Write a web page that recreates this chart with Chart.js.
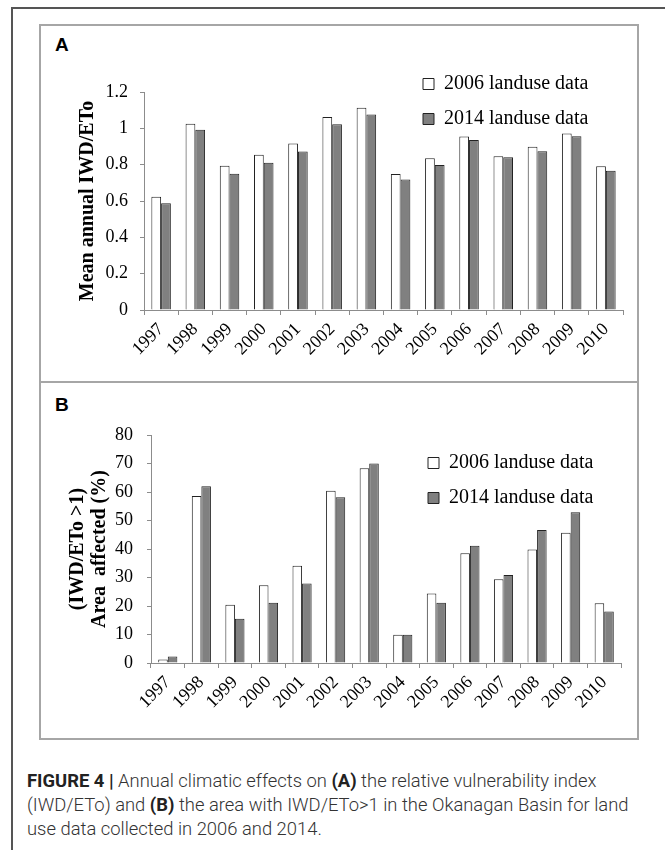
<!DOCTYPE html>
<html>
<head>
<meta charset="utf-8">
<script src="https://cdn.jsdelivr.net/npm/chart.js@4.4.1/dist/chart.umd.min.js"></script>
<style>
  body { margin: 0; width: 665px; height: 850px; position: relative; overflow: hidden; background: #fff; }
  .frame { position: absolute; left: 11px; top: 7px; width: 720px; height: 900px;
           border-left: 2px solid #555; border-top: 2px solid #555; }
  .panel { position: absolute; left: 39px; width: 600px; box-sizing: border-box; border: 2px solid #a6a6a6; }
  .plabel { position: absolute; left: 55px; font: bold 19px "Liberation Sans", Arial, sans-serif; line-height: 19px; color: #000; }
  canvas { position: absolute; left: 39px; }
  .caption { position: absolute; left: 27px; top: 769px; width: 640px; white-space: nowrap;
             font: 300 18.4px Roboto, "Liberation Sans", sans-serif; line-height: 24px; color: #333; }
  .caption b { color: #222; font-weight: bold; }
</style>
</head>
<body>
<div class="frame"></div>
<div class="panel" style="top:24px;height:359px"></div>
<div class="panel" style="top:381px;height:359px"></div>
<div class="plabel" style="top:35px">A</div>
<div class="plabel" style="top:395px">B</div>
<canvas id="chart-a" width="599" height="358" style="top:24px"></canvas>
<canvas id="chart-b" width="599" height="357" style="top:382px"></canvas>
<div class="caption"><b>FIGURE 4 |</b> Annual climatic effects on <b>(A)</b> the relative vulnerability index<br>(IWD/ETo) and <b>(B)</b> the area with IWD/ETo&gt;1 in the Okanagan Basin for land<br>use data collected in 2006 and 2014.</div>

<script>
/* Figure 4 – IWD/ETo and area affected, 1997–2010 */

const years = ["1997", "1998", "1999", "2000", "2001", "2002", "2003",
               "2004", "2005", "2006", "2007", "2008", "2009", "2010"];

const seriesNames = ["2006 landuse data", "2014 landuse data"];

// panel A: mean annual IWD/ETo
const iwd2006 = [0.623, 1.025, 0.794, 0.855, 0.916, 1.062, 1.113, 0.748, 0.835, 0.955, 0.846, 0.898, 0.972, 0.791];
const iwd2014 = [0.588, 0.992, 0.750, 0.811, 0.872, 1.023, 1.076, 0.719, 0.798, 0.936, 0.841, 0.874, 0.957, 0.767];
const iwdTicks = [0, 0.2, 0.4, 0.6, 0.8, 1, 1.2];

// panel B: area affected (%) with IWD/ETo > 1
const area2006 = [1.2, 58.6, 20.4, 27.3, 34.1, 60.4, 68.3, 9.9, 24.4, 38.5, 29.4, 39.8, 45.7, 21.0];
const area2014 = [2.3, 62.0, 15.5, 21.1, 27.9, 58.2, 70.0, 9.9, 21.1, 41.1, 30.9, 46.7, 52.9, 18.1];
const areaTicks = [0, 10, 20, 30, 40, 50, 60, 70, 80];

const SERIF = "'Liberation Serif', 'Times New Roman', serif";
const AXIS  = "#8c8c8c";

/* legend sits inside the plot, top right — move it after layout */
const legendInPlot = {
  id: "legendInPlot",
  afterLayout(chart, args, opts) {
    const lg = chart.legend;
    if (!lg) return;
    const w = lg.width, h = lg.height;
    lg.left = opts.x; lg.right = opts.x + w;
    lg.top  = opts.y; lg.bottom = opts.y + h;
  },
};

function makeBarChart(id, a, b, ticks, o) {
  new Chart(document.getElementById(id), {
    type: "bar",
    data: {
      labels: years,
      datasets: [
        { label: seriesNames[0], data: a, backgroundColor: "#ffffff", borderColor: "#222", borderWidth: 1 },
        { label: seriesNames[1], data: b, backgroundColor: "#808080", borderColor: "#222", borderWidth: 1 },
      ],
    },
    plugins: [legendInPlot],
    options: {
      responsive: false,
      animation: false,
      layout: { padding: o.pad },
      datasets: { bar: { categoryPercentage: 0.57, barPercentage: 1 } },
      plugins: {
        tooltip: { enabled: false },
        legend: {
          position: "chartArea",
          align: "start",
          labels: { color: "#000", font: { family: SERIF, size: 20 }, boxWidth: 11, boxHeight: 11, padding: 15 },
        },
        legendInPlot: o.legend,
      },
      scales: {
        x: {
          grid: { drawOnChartArea: false, tickLength: 5, color: AXIS, offset: true },
          border: { color: AXIS },
          ticks: {
            color: "#000", font: { family: SERIF, size: 18 },
            minRotation: 45, maxRotation: 45, autoSkip: false, padding: 4,
          },
          afterFit: s => { s.height = o.xh; },
        },
        y: {
          min: ticks[0],
          max: ticks[ticks.length - 1],
          grid: { drawOnChartArea: false, tickLength: 4, color: AXIS },
          border: { color: AXIS },
          ticks: {
            stepSize: ticks[1] - ticks[0],
            color: "#000",
            font: { family: SERIF, size: 18 },
            padding: o.tickPad,
            callback: v => String(Math.round(v * 10) / 10),
          },
          title: {
            display: true,
            text: o.title,
            color: "#000",
            font: { family: SERIF, size: 20, weight: "bold", lineHeight: 1.1 },
            padding: { top: o.titlePad, bottom: 0 },
          },
          afterFit: s => { s.width = o.yw; },
        },
      },
    },
  });
}

makeBarChart("chart-a", iwd2006, iwd2014, iwdTicks, {
  pad: { left: 0, top: 68, right: 15, bottom: 0 },
  yw: 105, xh: 72, tickPad: 12, titlePad: 38,
  title: "Mean annual IWD/ETo",
  legend: { x: 369, y: 35 },
});

makeBarChart("chart-b", area2006, area2014, areaTicks, {
  pad: { left: 0, top: 53, right: 17, bottom: 0 },
  yw: 112, xh: 76, tickPad: 14, titlePad: 28,
  title: ["(IWD/ETo >1)", "Area  affected (%)"],
  legend: { x: 374, y: 56 },
});
</script>
</body>
</html>
